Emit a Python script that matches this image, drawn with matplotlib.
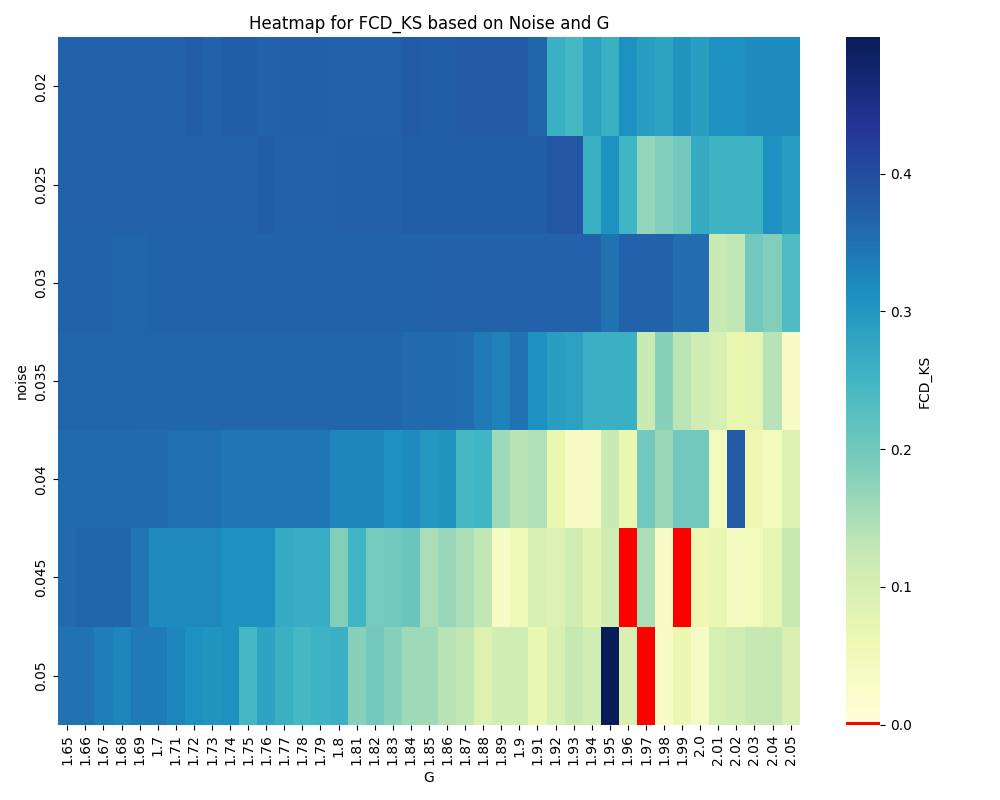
import numpy as np
import pandas as pd
import matplotlib
matplotlib.use("Agg")
import matplotlib.pyplot as plt
import seaborn as sns
from matplotlib.colors import ListedColormap

noise = [0.02, 0.025, 0.03, 0.035, 0.04, 0.045, 0.05]
g_values = [1.65, 1.66, 1.67, 1.68, 1.69, 1.7, 1.71, 1.72, 1.73, 1.74,
            1.75, 1.76, 1.77, 1.78, 1.79, 1.8, 1.81, 1.82, 1.83, 1.84,
            1.85, 1.86, 1.87, 1.88, 1.89, 1.9, 1.91, 1.92, 1.93, 1.94,
            1.95, 1.96, 1.97, 1.98, 1.99, 2.0, 2.01, 2.02, 2.03, 2.04, 2.05]

# FCD_KS per noise level (rows), one value per G column
ks_002 = [0.37, 0.37, 0.37, 0.37, 0.37, 0.37, 0.37, 0.375, 0.37, 0.375,
          0.375, 0.37, 0.372, 0.372, 0.372, 0.37, 0.37, 0.37, 0.37, 0.38,
          0.375, 0.375, 0.38, 0.38, 0.38, 0.38, 0.365, 0.26, 0.245, 0.285,
          0.26, 0.31, 0.29, 0.28, 0.305, 0.29, 0.31, 0.31, 0.32, 0.32, 0.32]
ks_0025 = [0.37, 0.37, 0.37, 0.37, 0.37, 0.37, 0.37, 0.37, 0.37, 0.37,
           0.37, 0.375, 0.37, 0.37, 0.37, 0.372, 0.372, 0.372, 0.372, 0.375,
           0.375, 0.375, 0.375, 0.375, 0.375, 0.375, 0.375, 0.385, 0.385, 0.26,
           0.31, 0.25, 0.17, 0.185, 0.2, 0.27, 0.255, 0.255, 0.255, 0.31, 0.29]
ks_003 = [0.368, 0.368, 0.368, 0.366, 0.366, 0.368, 0.368, 0.368, 0.368, 0.368,
          0.368, 0.368, 0.368, 0.368, 0.368, 0.368, 0.368, 0.368, 0.368, 0.368,
          0.37, 0.37, 0.37, 0.37, 0.37, 0.37, 0.37, 0.37, 0.37, 0.37,
          0.35, 0.37, 0.37, 0.37, 0.355, 0.355, 0.12, 0.13, 0.2, 0.185, 0.235]
ks_0035 = [0.365, 0.365, 0.365, 0.365, 0.365, 0.365, 0.365, 0.365, 0.365, 0.365,
           0.365, 0.365, 0.365, 0.365, 0.365, 0.365, 0.365, 0.365, 0.365, 0.36,
           0.36, 0.36, 0.355, 0.34, 0.33, 0.35, 0.31, 0.29, 0.285, 0.26,
           0.26, 0.26, 0.12, 0.18, 0.135, 0.115, 0.1, 0.07, 0.075, 0.14, 0.03]
ks_004 = [0.36, 0.36, 0.36, 0.36, 0.357, 0.357, 0.352, 0.352, 0.352, 0.345,
          0.345, 0.345, 0.345, 0.345, 0.345, 0.325, 0.325, 0.325, 0.31, 0.32,
          0.3, 0.305, 0.245, 0.25, 0.16, 0.14, 0.145, 0.07, 0.03, 0.03,
          0.12, 0.07, 0.2, 0.165, 0.2, 0.2, 0.05, 0.38, 0.06, 0.045, 0.09]
ks_0045 = [0.36, 0.365, 0.365, 0.365, 0.345, 0.32, 0.32, 0.322, 0.322, 0.31,
           0.31, 0.31, 0.27, 0.265, 0.265, 0.185, 0.25, 0.195, 0.2, 0.21,
           0.15, 0.165, 0.15, 0.13, 0.03, 0.055, 0.1, 0.09, 0.11, 0.08,
           0.11, 0.0, 0.15, 0.03, 0.0, 0.06, 0.07, 0.04, 0.05, 0.075, 0.12]
ks_005 = [0.35, 0.35, 0.335, 0.325, 0.34, 0.34, 0.325, 0.31, 0.305, 0.31,
          0.245, 0.28, 0.26, 0.245, 0.255, 0.26, 0.18, 0.2, 0.18, 0.16,
          0.16, 0.14, 0.13, 0.09, 0.11, 0.11, 0.07, 0.1, 0.125, 0.11,
          0.499, 0.095, 0.0, 0.03, 0.065, 0.035, 0.1, 0.11, 0.125, 0.125, 0.095]

data = pd.DataFrame([ks_002, ks_0025, ks_003, ks_0035, ks_004, ks_0045, ks_005],
                    index=pd.Index(noise, name="noise"),
                    columns=pd.Index(g_values, name="G"))

# YlGnBu with the lowest bin painted red so zero values stand out
colors = plt.get_cmap("YlGnBu")(np.linspace(0, 1, 256))
colors[0] = [1, 0, 0, 1]
cmap = ListedColormap(colors)

plt.figure(figsize=(10, 8), dpi=100)
ax = sns.heatmap(data, cmap=cmap, cbar_kws={"label": "FCD_KS"})
ax.set_title("Heatmap for FCD_KS based on Noise and G")
ax.set_xlabel("G")
ax.set_ylabel("noise")
plt.setp(ax.get_xticklabels(), rotation=90)
plt.setp(ax.get_yticklabels(), rotation=90, va="center")
plt.tight_layout()
plt.savefig("out.png")
